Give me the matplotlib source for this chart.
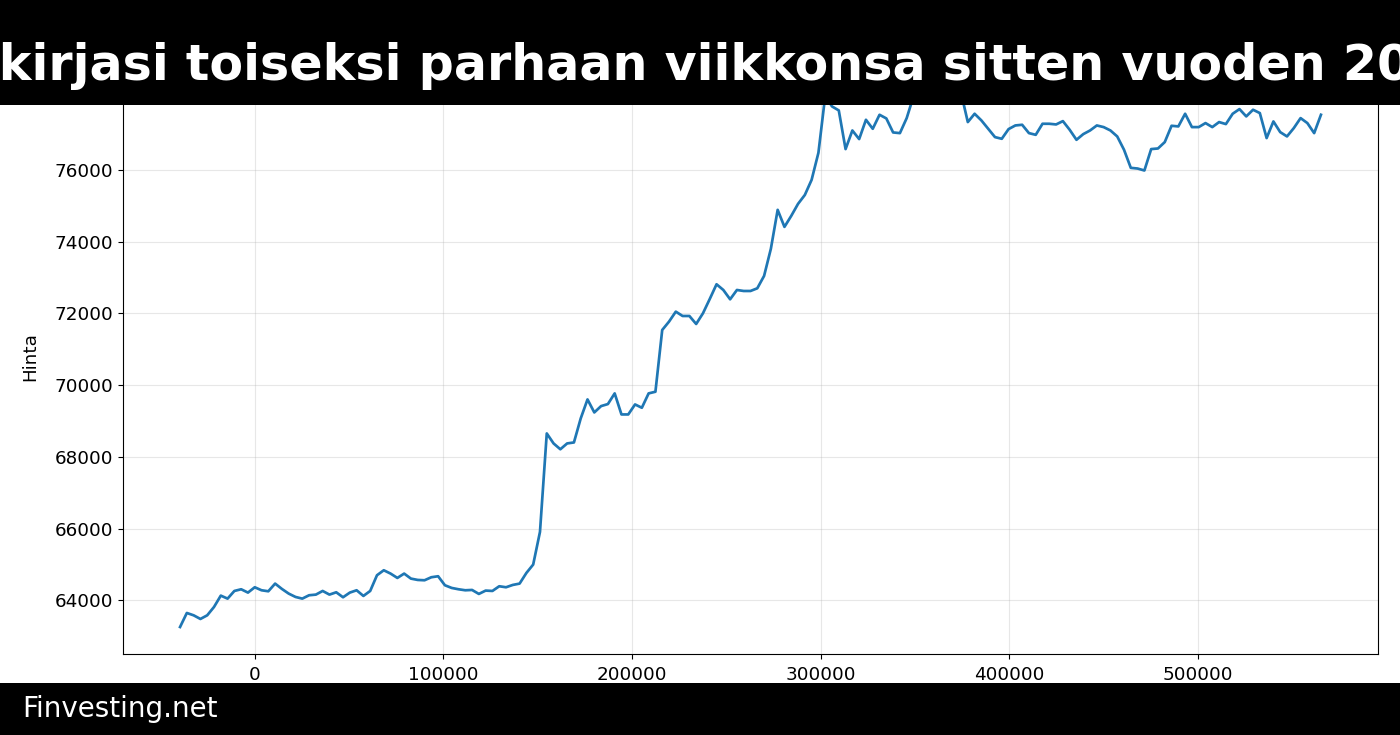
import numpy as np
import matplotlib
matplotlib.use("Agg")
import matplotlib.pyplot as plt
from matplotlib.patches import Rectangle

# ---- data (hourly, x in seconds) ----
hours = list(range(-11, 158))
prices = [
    63255, 63646, 63581, 63479, 63581, 63813, 64130, 64046, 64260, 64307,
    64214, 64363, 64279, 64251, 64465, 64316, 64186, 64093, 64046, 64140,
    64158, 64260, 64158, 64223, 64084, 64214, 64279, 64121, 64260, 64698,
    64837, 64744, 64623, 64744, 64604, 64567, 64558, 64642, 64670, 64419,
    64344, 64307, 64279, 64288, 64177, 64270, 64260, 64391, 64363, 64428,
    64465, 64762, 64996, 65906, 68652, 68373, 68210, 68373, 68400, 69070,
    69600, 69237, 69414, 69470, 69768, 69181, 69181, 69460, 69367, 69768,
    69814, 71536, 71768, 72047, 71926, 71926, 71703, 72001, 72400, 72810,
    72651, 72391, 72651, 72623, 72623, 72698, 73043, 73800, 74885, 74410,
    74717, 75052, 75300, 75722, 76475, 78060, 77769, 77657, 76579, 77098,
    76858, 77396, 77145, 77536, 77434, 77043, 77024, 77443, 78050, 78200,
    78150, 78310, 78250, 78120, 78220, 78150, 77332, 77564, 77378, 77145,
    76913, 76866, 77136, 77238, 77257, 77024, 76977, 77285, 77285, 77266,
    77359, 77117, 76838, 76996, 77098, 77238, 77192, 77098, 76932, 76560,
    76056, 76037, 75982, 76579, 76596, 76774, 77229, 77211, 77564, 77192,
    77192, 77304, 77192, 77332, 77276, 77564, 77694, 77490, 77676, 77583,
    76886, 77350, 77052, 76932, 77164, 77443, 77304, 77024, 77536,
]
x_seconds = np.array(hours) * 3600

title_text = "Bitcoin kirjasi toiseksi parhaan viikkonsa sitten vuoden 2024"
title_visible = "kirjasi toiseksi parhaan viikkonsa sitten vuoden 2024"
ylabel_text = "Hinta"
footer_text = "Finvesting.net"

W, H = 1400, 735
fig = plt.figure(figsize=(W / 100, H / 100), dpi=100)
ax = fig.add_axes([123 / W, 1 - 654 / H, (1378 - 123) / W, (654 - 60) / H])

ax.plot(x_seconds, prices, color="#1f77b4", lw=1.95)
ax.grid(True, color="#b0b0b0", alpha=0.3, lw=0.8)
ax.set_axisbelow(True)
ax.set_xticks([0, 100000, 200000, 300000, 400000, 500000])
ax.set_yticks([64000, 66000, 68000, 70000, 72000, 74000, 76000, 78000])
ax.tick_params(labelsize=13.2, length=3.4, width=0.8, pad=3.4)
ax.tick_params(axis="x", pad=5.5)
ax.set_ylabel(ylabel_text, fontsize=13.2, labelpad=11)
for s in ax.spines.values():
    s.set_linewidth(0.8)

# header banner
fig.add_artist(Rectangle((0, 1 - 105 / H), 1, 105 / H, transform=fig.transFigure,
                         facecolor="black", edgecolor="none", zorder=5))
# footer banner
fig.add_artist(Rectangle((0, 0), 1, 52 / H, transform=fig.transFigure,
                         facecolor="black", edgecolor="none", zorder=5))

fs_title = 35.4
renderer = fig.canvas.get_renderer()
tmp_full = fig.text(0, 0, title_text, fontsize=fs_title, fontweight="bold")
tmp_vis = fig.text(0, 0, title_visible, fontsize=fs_title, fontweight="bold")
wf = tmp_full.get_window_extent(renderer).width
wv = tmp_vis.get_window_extent(renderer).width
tmp_full.remove()
tmp_vis.remove()
x_left_px = -1 - (wf - wv)
fig.text(x_left_px / W, 1 - 80 / H, title_text, color="white", fontsize=fs_title,
         fontweight="bold", ha="left", va="baseline", zorder=6)

fig.text(22 / W, 1 - 717 / H, footer_text, color="white", fontsize=20,
         ha="left", va="baseline", zorder=6)

fig.savefig("out.png", dpi=100)
